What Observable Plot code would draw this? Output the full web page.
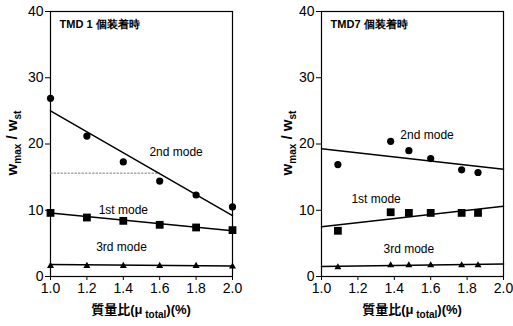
<!DOCTYPE html>
<html>
<head>
<meta charset="utf-8">
<script src="https://cdn.jsdelivr.net/npm/d3@7"></script>
<script src="https://cdn.jsdelivr.net/npm/@observablehq/plot@0.6"></script>
<style>
  body { margin: 0; background: #fff; }
  #wrap { display: flex; width: 513px; height: 326px; background: #fff; }
  svg { display: block; }
</style>
</head>
<body>
<div id="wrap"></div>
<script>
// ---------- data ----------
const xTicks = [1.0, 1.2, 1.4, 1.6, 1.8, 2.0];
const yTicks = [0, 10, 20, 30, 40];
const modeNames = ["2nd mode", "1st mode", "3rd mode"];
const fitX = [1.0, 2.0];

// Left panel: TMD 1 個装着時
const leftTitle = "TMD 1 個装着時";
const leftX = [1.0, 1.2, 1.4, 1.6, 1.8, 2.0];
const left2nd = [26.9, 21.2, 17.3, 14.4, 12.3, 10.5];
const left1st = [9.6, 8.9, 8.4, 7.8, 7.4, 7.0];
const left3rd = [1.6, 1.6, 1.6, 1.6, 1.6, 1.5];
const leftFit2nd = [25.0, 9.2];
const leftFit1st = [9.6, 6.9];
const leftFit3rd = [1.8, 1.6];
const leftRefX = [1.0, 1.6];
const leftRefY = [15.6, 15.6];
const leftLabelX = [1.69, 1.40, 1.39];
const leftLabelY = [18.7, 10.0, 4.4];

// Right panel: TMD7 個装着時
const rightTitle = "TMD7 個装着時";
const rightX = [1.09, 1.38, 1.48, 1.60, 1.77, 1.86];
const right2nd = [16.9, 20.4, 19.0, 17.8, 16.1, 15.7];
const right1st = [6.9, 9.7, 9.6, 9.6, 9.6, 9.6];
const right3rd = [1.4, 1.7, 1.7, 1.7, 1.7, 1.7];
const rightFit2nd = [19.3, 16.2];
const rightFit1st = [7.5, 10.6];
const rightFit3rd = [1.5, 1.9];
const rightLabelX = [1.58, 1.30, 1.48];
const rightLabelY = [21.4, 11.6, 4.2];

const FONT = "'Liberation Sans', Arial, sans-serif";
const JFONT = "'Liberation Sans', 'Noto Sans CJK JP', sans-serif";

function panel(cfg) {
  const pts = (xs, ys) => xs.map((x, i) => ({x, y: ys[i]}));
  const fit = ys => pts(fitX, ys);
  const labels = modeNames.map((t, i) => ({t, x: cfg.labelX[i], y: cfg.labelY[i]}));
  const marks = [
    Plot.frame({stroke: "black", strokeWidth: 1.2}),
    Plot.axisX({ticks: xTicks, tickFormat: d3.format(".1f"), tickSize: 4, tickPadding: 3, fontSize: 14, label: null}),
    Plot.axisY({ticks: yTicks, tickSize: 5, tickPadding: 2, fontSize: 14, label: null}),
  ];
  if (cfg.refX) {
    marks.push(Plot.line(pts(cfg.refX, cfg.refY), {x: "x", y: "y", stroke: "#777", strokeWidth: 1, strokeDasharray: "1.5,2"}));
  }
  marks.push(
    Plot.line(fit(cfg.fit2nd), {x: "x", y: "y", stroke: "black", strokeWidth: 1.5}),
    Plot.line(fit(cfg.fit1st), {x: "x", y: "y", stroke: "black", strokeWidth: 1.5}),
    Plot.line(fit(cfg.fit3rd), {x: "x", y: "y", stroke: "black", strokeWidth: 1.5}),
    Plot.dot(pts(cfg.xs, cfg.s2), {x: "x", y: "y", symbol: "circle", r: 3.6, fill: "black"}),
    Plot.dot(pts(cfg.xs, cfg.s1), {x: "x", y: "y", symbol: "square", r: 4.4, fill: "black"}),
    Plot.dot(pts(cfg.xs, cfg.s3), {x: "x", y: "y", symbol: "triangle", r: 2.6, fill: "black"}),
    Plot.text(labels, {x: "x", y: "y", text: "t", fontSize: 12, fill: "black"}),
    Plot.text([cfg.title], {x: 1.05, y: 38, text: d => d, textAnchor: "start", fontSize: 11, fontWeight: "bold", fill: "black"})
  );
  const svg = Plot.plot({
    width: cfg.width,
    height: 326,
    marginTop: 11,
    marginBottom: 50,
    marginLeft: cfg.ml,
    marginRight: cfg.mr,
    style: {fontFamily: FONT, fontSize: "14px", background: "white", color: "black"},
    x: {domain: [1.0, 2.0]},
    y: {domain: [0, 40]},
    marks
  });
  const s = d3.select(svg);
  const cx = cfg.ml + (cfg.width - cfg.ml - cfg.mr) / 2;
  // x axis label
  const xl = s.append("text")
    .attr("x", cx).attr("y", 314)
    .attr("text-anchor", "middle")
    .attr("font-family", JFONT)
    .attr("font-size", 13)
    .attr("font-weight", "bold")
    .attr("fill", "black");
  xl.append("tspan").text("質量比(μ");
  xl.append("tspan").attr("font-size", 10).attr("dy", 4).text(" total");
  xl.append("tspan").attr("dy", -4).text(")(%)");
  // y axis label
  const yl = s.append("text")
    .attr("transform", `translate(${cfg.yLabelX},143) rotate(-90)`)
    .attr("text-anchor", "middle")
    .attr("font-family", FONT)
    .attr("font-size", 15)
    .attr("font-weight", "bold")
    .attr("fill", "black");
  yl.append("tspan").text("w");
  yl.append("tspan").attr("font-size", 10).attr("dy", 4).text("max");
  yl.append("tspan").attr("dy", -4).text(" / w");
  yl.append("tspan").attr("font-size", 10).attr("dy", 4).text("st");
  return svg;
}

const wrap = document.getElementById("wrap");
wrap.append(panel({
  width: 256, ml: 50, mr: 24, yLabelX: 17,
  title: leftTitle, xs: leftX, s2: left2nd, s1: left1st, s3: left3rd,
  fit2nd: leftFit2nd, fit1st: leftFit1st, fit3rd: leftFit3rd,
  refX: leftRefX, refY: leftRefY,
  labelX: leftLabelX, labelY: leftLabelY
}));
wrap.append(panel({
  width: 257, ml: 65, mr: 10, yLabelX: 36,
  title: rightTitle, xs: rightX, s2: right2nd, s1: right1st, s3: right3rd,
  fit2nd: rightFit2nd, fit1st: rightFit1st, fit3rd: rightFit3rd,
  labelX: rightLabelX, labelY: rightLabelY
}));
</script>
</body>
</html>
